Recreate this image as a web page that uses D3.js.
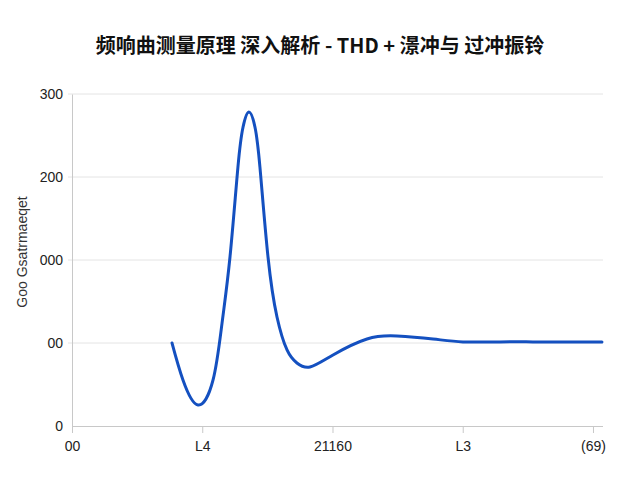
<!DOCTYPE html>
<html>
<head>
<meta charset="utf-8">
<script src="https://cdn.jsdelivr.net/npm/d3@7"></script>
<style>
  body { margin: 0; background: #fff; }
  svg { display: block; font-family: "Liberation Sans", "DejaVu Sans", sans-serif; }
  .title { font-family: "Noto Sans CJK SC", sans-serif; font-weight: bold; font-size: 20px; fill: #111; }
  .axis-label { font-size: 14px; fill: #333; }
</style>
</head>
<body>
<svg width="640" height="480"></svg>
<script>
// data
const xTicks = [0, 1, 2, 3, 4];
const xTickLabels = ["00", "L4", "21160", "L3", "(69)"];
const yTicks = [0, 75, 150, 225, 300];
const yTickLabels = ["0", "00", "000", "200", "300"];

const xs = [0.768, 0.852, 0.967, 1.083, 1.152, 1.213, 1.274, 1.313, 1.359, 1.405, 1.443, 1.505, 1.574, 1.651, 1.727, 1.827, 2.004, 2.265, 2.495, 2.772, 3.002, 3.286, 3.539, 3.800, 4.069];
const ys = [75, 41.6, 19, 41.6, 93, 152.7, 234, 270, 283.7, 270, 234, 152.7, 98.5, 68.7, 56.9, 53.3, 64.2, 78.6, 81.3, 78.6, 76, 76, 76, 76, 76];

const margin = { top: 94, right: 37, bottom: 54, left: 72 };
const width = 640 - margin.left - margin.right;
const height = 480 - margin.top - margin.bottom;

const root = d3.select("svg");

root.append("text")
  .attr("class", "title")
  .attr("x", 320)
  .attr("y", 53)
  .attr("text-anchor", "middle")
  .text("频响曲测量原理 深入解析 - THD + 澋冲与 过冲振铃");

const svg = root.append("g")
  .attr("transform", `translate(${margin.left},${margin.top})`);

const x = d3.scaleLinear([0, 4.077], [0, width]);
const y = d3.scaleLinear([0, 300], [height, 0]);

// gridlines
svg.append("g")
  .selectAll("line")
  .data(yTicks.slice(1))
  .enter().append("line")
    .attr("x1", -4)
    .attr("x2", width)
    .attr("y1", d => y(d))
    .attr("y2", d => y(d))
    .attr("stroke", "#e4e4e4")
    .attr("stroke-width", 1);

// axes
const xAxis = svg.append("g")
  .attr("transform", `translate(0,${height})`)
  .call(d3.axisBottom(x).tickValues(xTicks).tickSize(7).tickPadding(8)
    .tickFormat((d, i) => xTickLabels[i]));
xAxis.select(".domain").attr("stroke", "#c8c8c8").attr("d", `M0,0.5H${width}`);
xAxis.selectAll(".tick line").attr("stroke", "#c8c8c8");

const yAxis = svg.append("g")
  .call(d3.axisLeft(y).tickValues(yTicks).tickSize(0).tickPadding(9)
    .tickFormat((d, i) => yTickLabels[i]));
yAxis.select(".domain").attr("stroke", "#c8c8c8");

svg.selectAll(".tick text")
  .style("font-size", "14px")
  .style("font-family", "'Liberation Sans', sans-serif")
  .attr("fill", "#222");

// Y-axis label
svg.append("text")
  .attr("class", "axis-label")
  .attr("transform", "rotate(-90)")
  .attr("x", -height / 2 + 8)
  .attr("y", -margin.left + 27)
  .attr("text-anchor", "middle")
  .text("Goo Gsatrmaeqet");

// response curve
const line = d3.line()
  .x((d, i) => x(xs[i]))
  .y(d => y(d))
  .curve(d3.curveNatural);

svg.append("path")
  .datum(ys)
  .attr("fill", "none")
  .attr("stroke", "#1450c0")
  .attr("stroke-width", 3)
  .attr("stroke-linecap", "round")
  .attr("d", line);
</script>
</body>
</html>
